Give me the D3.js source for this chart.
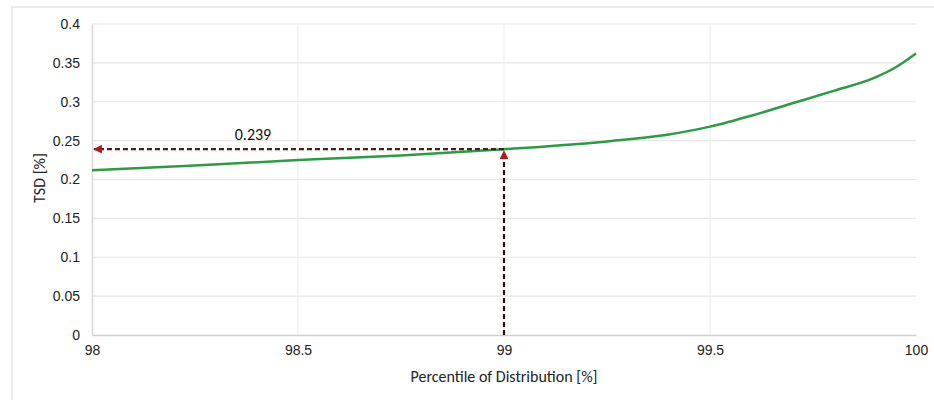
<!DOCTYPE html>
<html><head><meta charset="utf-8">
<script src="https://cdn.jsdelivr.net/npm/d3@7"></script>
<style>body{margin:0;background:#fff}svg{display:block;font-family:Calibri,Carlito,"Open Sans",sans-serif}</style>
</head><body><svg id="c" width="934" height="400"></svg>
<script>
const percentile = [98, 98.25, 98.5, 98.75, 99, 99.25, 99.4, 99.5, 99.6, 99.7, 99.8, 99.9, 99.95, 100];
const tsd =        [0.212, 0.218, 0.225, 0.231, 0.239, 0.249, 0.258, 0.268, 0.282, 0.298, 0.314, 0.331, 0.344, 0.362];
const xTicks = [98, 98.5, 99, 99.5, 100];
const yTicks = [0, 0.05, 0.1, 0.15, 0.2, 0.25, 0.3, 0.35, 0.4];
const markX = 99, markY = 0.239;

const svg = d3.select("#c");
const x = d3.scaleLinear().domain([98, 100]).range([92, 916]);
const y = d3.scaleLinear().domain([0, 0.4]).range([335, 24]);

// outer chart border (faint)
svg.append("rect").attr("x",12).attr("y",7).attr("width",940).attr("height",420)
  .attr("fill","none").attr("stroke","#ececec").attr("stroke-width",2);

// gridlines
svg.append("g").selectAll("line").data(yTicks.slice(1)).join("line")
  .attr("x1",x(98)).attr("x2",x(100)).attr("y1",d=>y(d)).attr("y2",d=>y(d))
  .attr("stroke","#e6e6e6").attr("stroke-width",1.2);
svg.append("g").selectAll("line").data(xTicks.slice(1,-1)).join("line")
  .attr("x1",d=>x(d)).attr("x2",d=>x(d)).attr("y1",y(0)).attr("y2",y(0.4))
  .attr("stroke","#efefef").attr("stroke-width",1.2);

// axes
const xa = svg.append("g").attr("transform",`translate(0,${y(0)})`)
  .call(d3.axisBottom(x).tickValues(xTicks).tickSize(0).tickPadding(10).tickFormat(d3.format("")));
xa.select(".domain").attr("stroke","#d0d0d0").attr("stroke-width",1.5);
xa.selectAll("text").attr("font-size",14).attr("fill","#222");
const ya = svg.append("g").attr("transform",`translate(${x(98)},0)`)
  .call(d3.axisLeft(y).tickValues(yTicks).tickSize(0).tickPadding(12).tickFormat(d3.format("")));
ya.select(".domain").attr("stroke","#d6d6d6").attr("stroke-width",1.5);
ya.selectAll("text").attr("font-size",14).attr("fill","#222");

// curve
svg.append("path").datum(percentile.map((p,i)=>[p,tsd[i]]))
  .attr("d", d3.line().x(d=>x(d[0])).y(d=>y(d[1])).curve(d3.curveMonotoneX))
  .attr("fill","none").attr("stroke","#2e9a45").attr("stroke-width",2.5);

// arrow markers
const defs = svg.append("defs");
defs.append("marker").attr("id","ah").attr("viewBox","0 0 10 10").attr("refX",9).attr("refY",5)
  .attr("markerWidth",4).attr("markerHeight",4).attr("orient","auto-start-reverse")
  .append("path").attr("d","M0,0L10,5L0,10z").attr("fill","#b3191c");

svg.append("line").attr("x1",x(markX)).attr("x2",x(98)+2).attr("y1",y(markY)).attr("y2",y(markY))
  .attr("stroke","#4a1e1e").attr("stroke-width",2.2).attr("stroke-dasharray","5,3")
  .attr("marker-end","url(#ah)");
svg.append("line").attr("x1",x(markX)).attr("x2",x(markX)).attr("y1",y(0)).attr("y2",y(markY)+2)
  .attr("stroke","#2a1212").attr("stroke-width",2.2).attr("stroke-dasharray","5,3")
  .attr("marker-end","url(#ah)");

svg.append("text").attr("x",253).attr("y",140).attr("text-anchor","middle")
  .attr("font-size",16).attr("fill","#111").text(markY.toFixed(3));

// axis titles
svg.append("text").attr("x",x(99)).attr("y",382).attr("text-anchor","middle")
  .attr("font-size",16).attr("fill","#222").text("Percentile of Distribution [%]");
svg.append("text").attr("transform",`translate(45,${178}) rotate(-90)`).attr("text-anchor","middle")
  .attr("font-size",16).attr("fill","#222").text("TSD [%]");
</script></body></html>
